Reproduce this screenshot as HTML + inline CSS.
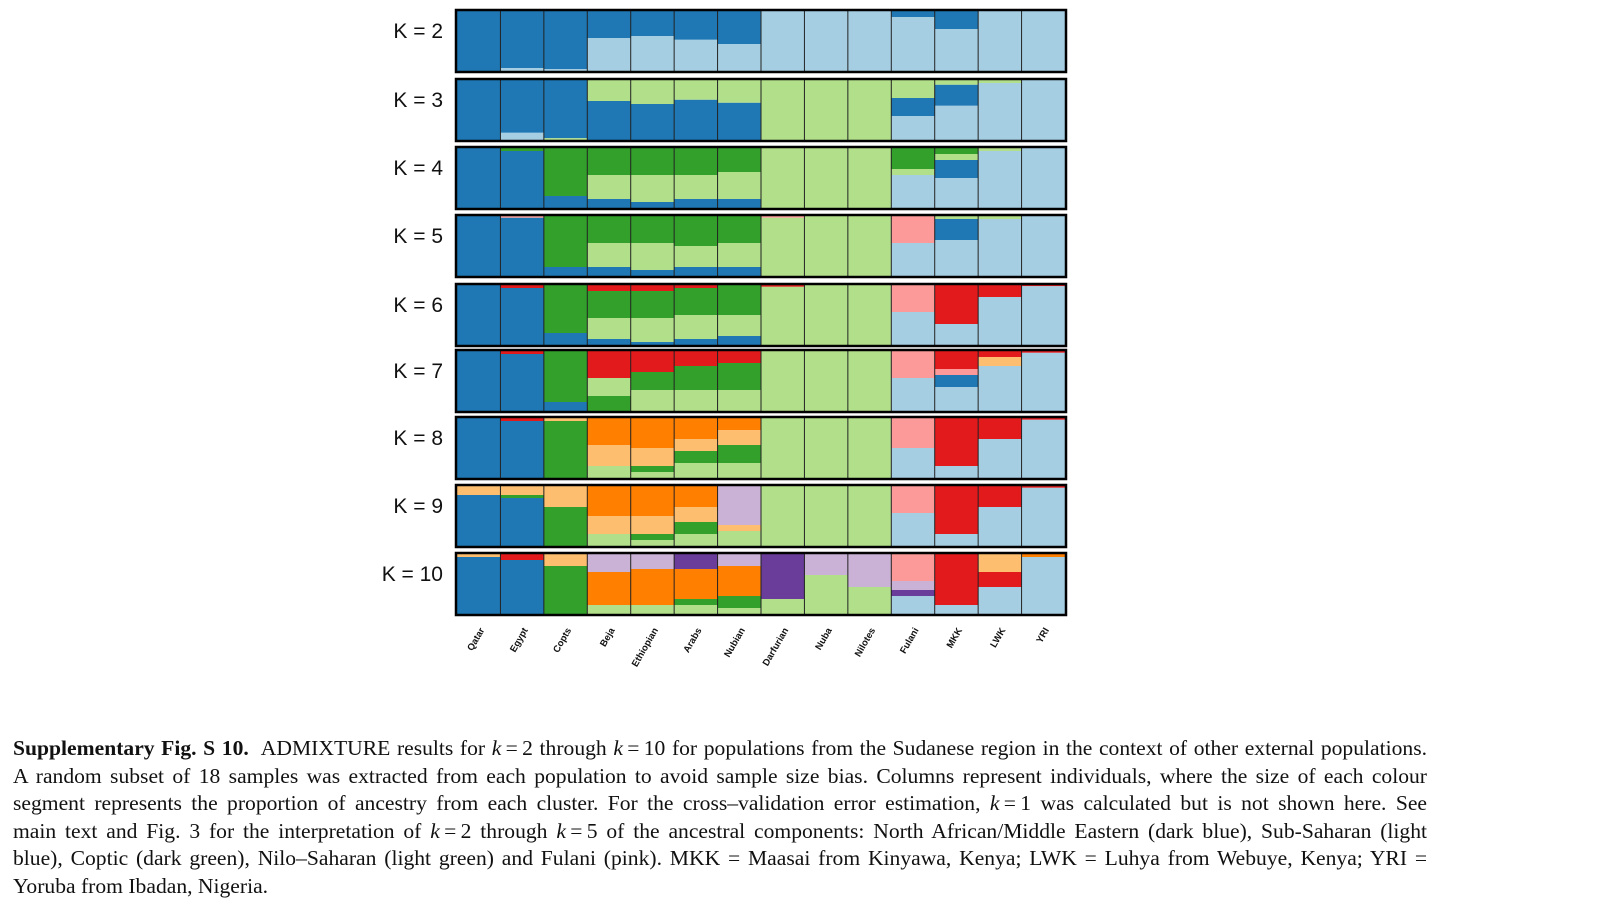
<!DOCTYPE html>
<html><head><meta charset="utf-8">
<style>
body{margin:0;width:1600px;height:900px;background:#fff;position:relative;overflow:hidden;font-family:"Liberation Sans",sans-serif}
#cap{position:absolute;left:13px;top:735px;width:1414px;font-family:"Liberation Serif",serif;font-size:21.6px;line-height:27.6px;color:#111}
#cap .ln{display:block;white-space:nowrap;text-align:justify;text-align-last:justify}
#cap .last{display:block;text-align:left}
</style></head><body>
<svg id="chart" width="1600" height="720" style="position:absolute;left:0;top:0"></svg>
<div id="cap"><span class="ln"><b>Supplementary Fig. S 10.</b>&nbsp; ADMIXTURE results for <i>k</i>&thinsp;=&thinsp;2 through <i>k</i>&thinsp;=&thinsp;10 for populations from the Sudanese region in the context of other external populations.</span><span class="ln">A random subset of 18 samples was extracted from each population to avoid sample size bias. Columns represent individuals, where the size of each colour</span><span class="ln">segment represents the proportion of ancestry from each cluster. For the cross–validation error estimation, <i>k</i>&thinsp;=&thinsp;1 was calculated but is not shown here. See</span><span class="ln">main text and Fig. 3 for the interpretation of <i>k</i>&thinsp;=&thinsp;2 through <i>k</i>&thinsp;=&thinsp;5 of the ancestral components: North African/Middle Eastern (dark blue), Sub-Saharan (light</span><span class="ln">blue), Coptic (dark green), Nilo–Saharan (light green) and Fulani (pink). MKK = Maasai from Kinyawa, Kenya; LWK = Luhya from Webuye, Kenya; YRI =</span><span class="last">Yoruba from Ibadan, Nigeria.</span></div>
<script>
const populations=["Qatar","Egypt","Copts","Beja","Ethiopian","Arabs","Nubian","Darfurian","Nuba","Nilotes","Fulani","MKK","LWK","YRI"];
const kValues=[2,3,4,5,6,7,8,9,10];
const palette=["#1f78b4","#a6cee3","#33a02c","#b2df8a","#fb9a99","#e31a1c","#fdbf6f","#ff7f00","#cab2d6","#6a3d9a"];
// per K, per population: top-to-bottom segments [clusterIndex, fraction]
const k2=[[[0,1]],[[0,.95],[1,.05]],[[0,.97],[1,.03]],[[0,.45],[1,.55]],[[0,.42],[1,.58]],[[0,.48],[1,.52]],[[0,.55],[1,.45]],[[1,1]],[[1,1]],[[1,1]],[[0,.1],[1,.9]],[[0,.3],[1,.7]],[[1,1]],[[1,1]]];
const k3=[[[0,1]],[[0,.88],[1,.12]],[[0,.97],[3,.03]],[[3,.35],[0,.65]],[[3,.4],[0,.6]],[[3,.33],[0,.67]],[[3,.38],[0,.62]],[[3,1]],[[3,1]],[[3,1]],[[3,.3],[0,.3],[1,.4]],[[3,.08],[0,.35],[1,.57]],[[3,.05],[1,.95]],[[1,1]]];
const k4=[[[0,1]],[[2,.05],[0,.95]],[[2,.8],[0,.2]],[[2,.45],[3,.4],[0,.15]],[[2,.45],[3,.45],[0,.1]],[[2,.45],[3,.4],[0,.15]],[[2,.4],[3,.45],[0,.15]],[[3,1]],[[3,1]],[[3,1]],[[2,.35],[3,.1],[1,.55]],[[2,.1],[3,.1],[0,.3],[1,.5]],[[3,.05],[1,.95]],[[1,1]]];
const k5=[[[0,1]],[[4,.03],[0,.97]],[[2,.85],[0,.15]],[[2,.45],[3,.4],[0,.15]],[[2,.45],[3,.45],[0,.1]],[[2,.5],[3,.35],[0,.15]],[[2,.45],[3,.4],[0,.15]],[[4,.03],[3,.97]],[[3,1]],[[3,1]],[[4,.45],[1,.55]],[[3,.05],[0,.35],[1,.6]],[[3,.05],[1,.95]],[[1,1]]];
const k6=[[[0,1]],[[5,.05],[0,.95]],[[2,.8],[0,.2]],[[5,.1],[2,.45],[3,.35],[0,.1]],[[5,.1],[2,.45],[3,.4],[0,.05]],[[5,.05],[2,.45],[3,.4],[0,.1]],[[2,.5],[3,.35],[0,.15]],[[5,.03],[3,.97]],[[3,1]],[[3,1]],[[4,.45],[1,.55]],[[5,.65],[1,.35]],[[5,.2],[1,.8]],[[5,.02],[1,.98]]];
const k7=[[[0,1]],[[5,.05],[0,.95]],[[2,.85],[0,.15]],[[5,.45],[3,.3],[2,.25]],[[5,.35],[2,.3],[3,.35]],[[5,.25],[2,.4],[3,.35]],[[5,.2],[2,.45],[3,.35]],[[3,1]],[[3,1]],[[3,1]],[[4,.45],[1,.55]],[[5,.3],[4,.1],[0,.2],[1,.4]],[[5,.1],[6,.15],[1,.75]],[[5,.03],[1,.97]]];
const k8=[[[0,1]],[[5,.05],[0,.95]],[[6,.05],[2,.95]],[[7,.45],[6,.35],[3,.2]],[[7,.5],[6,.3],[2,.1],[3,.1]],[[7,.35],[6,.2],[2,.2],[3,.25]],[[7,.2],[6,.25],[2,.3],[3,.25]],[[3,1]],[[3,1]],[[3,1]],[[4,.5],[1,.5]],[[5,.8],[1,.2]],[[5,.35],[1,.65]],[[5,.03],[1,.97]]];
const k9=[[[6,.15],[0,.85]],[[6,.15],[2,.05],[0,.8]],[[6,.35],[2,.65]],[[7,.5],[6,.3],[3,.2]],[[7,.5],[6,.3],[2,.1],[3,.1]],[[7,.35],[6,.25],[2,.2],[3,.2]],[[8,.65],[6,.1],[3,.25]],[[3,1]],[[3,1]],[[3,1]],[[4,.45],[1,.55]],[[5,.8],[1,.2]],[[5,.35],[1,.65]],[[5,.03],[1,.97]]];
const k10=[[[6,.05],[0,.95]],[[5,.1],[0,.9]],[[6,.2],[2,.8]],[[8,.3],[7,.55],[3,.15]],[[8,.25],[7,.6],[3,.15]],[[9,.25],[7,.5],[2,.1],[3,.15]],[[8,.2],[7,.5],[2,.2],[3,.1]],[[9,.75],[3,.25]],[[8,.35],[3,.65]],[[8,.55],[3,.45]],[[4,.45],[8,.15],[9,.1],[1,.3]],[[5,.85],[1,.15]],[[6,.3],[5,.25],[1,.45]],[[7,.05],[1,.95]]];
const allK=[k2,k3,k4,k5,k6,k7,k8,k9,k10];

const svg=document.getElementById('chart');
const NS="http://www.w3.org/2000/svg";
const x0=457,x1=1065,popW=(x1-x0)/populations.length;
const rowTop=i=>[11,80,148,216,285,351,418,486,554][i];
const rowH=60;
function xPop(j){return x0+j*popW;}
function mk(tag,attrs){const e=document.createElementNS(NS,tag);for(const k in attrs)e.setAttribute(k,attrs[k]);svg.appendChild(e);return e;}
kValues.forEach((k,i)=>{
  const y0=rowTop(i);
  allK[i].forEach((segs,j)=>{
    let y=y0;
    segs.forEach(([c,f],s)=>{
      const h=f*rowH;
      const r=mk('rect',{x:xPop(j),y:y,width:popW+0.5,height:h,fill:palette[c]});
      
      
      y+=h;
    });
    if(j>0){const l=mk('line',{x1:xPop(j),x2:xPop(j),y1:y0,y2:y0+rowH,stroke:'#222','stroke-width':1});
      
      }
  });
  const fr=mk('rect',{x:x0-1,y:y0-1,width:x1-x0+2,height:rowH+2,fill:'none',stroke:'#000','stroke-width':2.5});
  
  
  const t=mk('text',{x:443,y:y0+rowH/2-3,'text-anchor':'end','font-size':21,fill:'#111'});
  t.textContent='K = '+k;
  
  
});
populations.forEach((p,j)=>{
  const cx=xPop(j)+popW/2+6;
  const t=mk('text',{x:cx,y:630,'text-anchor':'end','font-size':9.5,'font-weight':'bold',fill:'#111',transform:'rotate(-60 '+cx+' 630)'});
  t.textContent=p;
  
  
});
</script>
</body></html>
